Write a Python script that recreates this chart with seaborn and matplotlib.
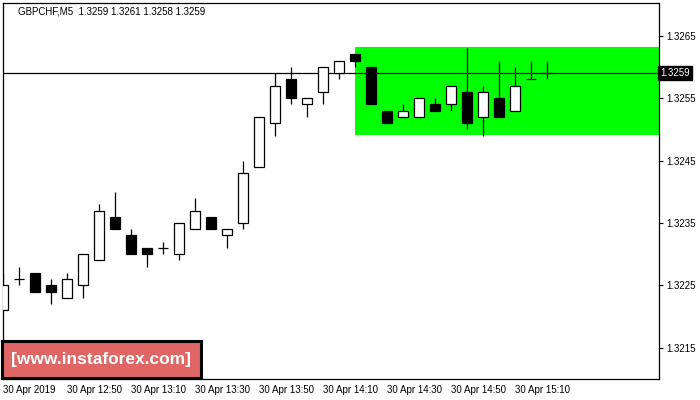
import numpy as np
import pandas as pd

import matplotlib as mpl
import matplotlib.pyplot as plt
from matplotlib import font_manager
from matplotlib.patches import Rectangle

import seaborn as sns

sns.set_style("white")

mpl.rcParams["font.family"] = ["Liberation Sans", "DejaVu Sans"]
mpl.rcParams["font.size"] = 7


# --------------------------------------------------
# Data (GBPCHF, M5, 30 Apr 2019)
# --------------------------------------------------

times = [
    "12:30", "12:35", "12:40", "12:45", "12:50", "12:55",
    "13:00", "13:05", "13:10", "13:15", "13:20", "13:25",
    "13:30", "13:35", "13:40", "13:45", "13:50", "13:55",
    "14:00", "14:05", "14:10", "14:15", "14:20", "14:25",
    "14:30", "14:35", "14:40", "14:45", "14:50", "14:55",
    "15:00", "15:05", "15:10", "15:15", "15:20",
]

opens = [
    1.3221, 1.3226, 1.3227, 1.3225, 1.3223, 1.3225,
    1.3229, 1.3236, 1.3233, 1.3231, 1.3231, 1.3230,
    1.3234, 1.3236, 1.3233, 1.3235, 1.3244, 1.3251,
    1.3258, 1.3254, 1.3256, 1.3259, 1.3262, 1.3260,
    1.3253, 1.3252, 1.3252, 1.3254, 1.3254, 1.3256,
    1.3252, 1.3255, 1.3253, 1.3258, 1.3259,
]

highs = [
    1.3227, 1.3228, 1.3227, 1.3226, 1.3227, 1.3230,
    1.3238, 1.3240, 1.3234, 1.3231, 1.3232, 1.3235,
    1.3239, 1.3236, 1.3234, 1.3245, 1.3252, 1.3259,
    1.3260, 1.3255, 1.3260, 1.3261, 1.3262, 1.3260,
    1.3253, 1.3254, 1.3255, 1.3255, 1.3257, 1.3263,
    1.3257, 1.3261, 1.3260, 1.3261, 1.3261,
]

lows = [
    1.3221, 1.3225, 1.3224, 1.3222, 1.3223, 1.3223,
    1.3229, 1.3234, 1.3230, 1.3228, 1.3230, 1.3229,
    1.3234, 1.3234, 1.3231, 1.3234, 1.3244, 1.3249,
    1.3254, 1.3252, 1.3254, 1.3258, 1.3260, 1.3254,
    1.3251, 1.3252, 1.3252, 1.3253, 1.3253, 1.3250,
    1.3249, 1.3252, 1.3253, 1.3258, 1.3258,
]

closes = [
    1.3225, 1.3226, 1.3224, 1.3224, 1.3226, 1.3230,
    1.3237, 1.3234, 1.3230, 1.3230, 1.3231, 1.3235,
    1.3237, 1.3234, 1.3234, 1.3243, 1.3252, 1.3257,
    1.3255, 1.3255, 1.3260, 1.3261, 1.3261, 1.3254,
    1.3251, 1.3253, 1.3255, 1.3253, 1.3257, 1.3251,
    1.3256, 1.3252, 1.3257, 1.3258, 1.3259,
]

# Pattern zone (green box)
zone_start = "14:20"
zone_high = 1.32632
zone_low = 1.32491

last_price = 1.3259

xtick_times = [
    "12:30", "12:50", "13:10", "13:30", "13:50",
    "14:10", "14:30", "14:50", "15:10",
]
xtick_labels = [
    "30 Apr 2019", "30 Apr 12:50", "30 Apr 13:10",
    "30 Apr 13:30", "30 Apr 13:50", "30 Apr 14:10",
    "30 Apr 14:30", "30 Apr 14:50", "30 Apr 15:10",
]
ytick_values = [1.3215, 1.3225, 1.3235, 1.3245, 1.3255, 1.3265]

title_text = "GBPCHF,M5  1.3259 1.3261 1.3258 1.3259"
watermark = "[www.instaforex.com]"


df = pd.DataFrame({
    "time": times,
    "open": opens,
    "high": highs,
    "low": lows,
    "close": closes,
})
df["idx"] = np.arange(len(df))
df["bottom"] = df[["open", "close"]].min(axis=1)
df["height"] = (df["close"] - df["open"]).abs()
df["up"] = df["close"] >= df["open"]

pos = dict(zip(df["time"], df["idx"]))


# --------------------------------------------------
# Figure
# --------------------------------------------------

fig = plt.figure(figsize=(7, 4), dpi=100)

ax = fig.add_axes([
    2.5 / 700,
    1 - 379 / 400,
    (659 - 2.5) / 700,
    (379 - 2.7) / 400
])

# green zone
zone_x = pos[zone_start]
ax.add_patch(
    Rectangle(
        (zone_x, zone_low),
        100,
        zone_high - zone_low,
        facecolor="#00FF00",
        edgecolor="none",
        zorder=0
    )
)

# wicks
ax.vlines(
    df["idx"],
    df["low"],
    df["high"],
    color="black",
    linewidth=0.9,
    zorder=2
)

# bodies
ax.bar(
    df["idx"],
    df["height"],
    bottom=df["bottom"],
    width=0.66,
    color=np.where(df["up"], "white", "black"),
    edgecolor="black",
    linewidth=0.9,
    zorder=3
)

# last price line
ax.axhline(
    last_price,
    color="black",
    linewidth=0.9,
    zorder=1
)

ax.set_xlim(-0.03, 41.0)
ax.set_ylim(1.32100, 1.32703)

# axes
for side in ["top", "bottom", "left", "right"]:
    ax.spines[side].set_visible(True)
    ax.spines[side].set_color("black")
    ax.spines[side].set_linewidth(0.9)

ax.yaxis.tick_right()
ax.set_yticks(ytick_values)
ax.set_yticklabels([f"{v:.4f}" for v in ytick_values])

ax.set_xticks([pos[t] for t in xtick_times])
ax.set_xticklabels(xtick_labels, ha="left")

ax.tick_params(
    axis="both",
    which="major",
    direction="out",
    length=3,
    width=0.8,
    color="black",
    labelsize=7,
    labelcolor="black"
)
ax.tick_params(axis="y", pad=2)
ax.tick_params(axis="x", pad=1.5)

ax.grid(False)

# title
fig.text(
    18 / 700,
    1 - 11 / 400,
    title_text,
    ha="left",
    va="center",
    fontsize=7,
    color="black"
)

# last price tag
ax.text(
    1.002,
    last_price,
    f"{last_price:.4f}",
    transform=ax.get_yaxis_transform(),
    ha="left",
    va="center",
    fontsize=7,
    color="white",
    bbox=dict(
        boxstyle="square,pad=0.2",
        facecolor="black",
        edgecolor="black"
    ),
    zorder=10,
    clip_on=False
)

# watermark
installed = {f.name for f in font_manager.fontManager.ttflist}
if "Liberation Sans Narrow" in installed:
    wm_family = "Liberation Sans Narrow"
    wm_size = 15
else:
    wm_family = "Liberation Sans"
    wm_size = 12.5

fig.patches.append(
    Rectangle(
        (1.5 / 700, 1 - 377.5 / 400),
        199 / 700,
        37 / 400,
        transform=fig.transFigure,
        facecolor="#E06666",
        edgecolor="black",
        linewidth=2.2,
        zorder=5
    )
)

fig.text(
    101 / 700,
    1 - 359.5 / 400,
    watermark,
    ha="center",
    va="center",
    family=wm_family,
    fontsize=wm_size,
    fontweight="bold",
    color="white",
    zorder=6
)

fig.savefig("out.png", dpi=100)
